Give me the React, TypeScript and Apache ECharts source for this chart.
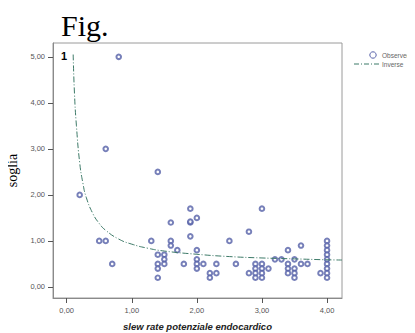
import React, { useEffect, useRef } from "react";
import * as echarts from "echarts";

// Observed points (slew rate, soglia)
const obsX = [
  0.2, 0.5, 0.6, 0.6, 0.7, 0.8,
  1.3, 1.4, 1.4, 1.4, 1.4, 1.4, 1.5, 1.5, 1.5,
  1.6, 1.6, 1.6, 1.7, 1.8, 1.9, 1.9, 1.9, 1.9,
  2.0, 2.0, 2.0, 2.0, 2.0, 2.1, 2.2, 2.2, 2.3, 2.3,
  2.5, 2.6, 2.8, 2.8, 2.9, 2.9, 2.9, 2.9,
  3.0, 3.0, 3.0, 3.0, 3.0, 3.1, 3.2, 3.3,
  3.4, 3.4, 3.4, 3.4, 3.5, 3.5, 3.5, 3.5, 3.6, 3.6, 3.7, 3.9,
  4.0, 4.0, 4.0, 4.0, 4.0, 4.0, 4.0, 4.0, 4.0,
];
const obsY = [
  2.0, 1.0, 1.0, 3.0, 0.5, 5.0,
  1.0, 2.5, 0.7, 0.5, 0.4, 0.2, 0.7, 0.6, 0.5,
  1.4, 1.0, 0.9, 0.8, 0.5, 1.7, 1.4, 1.42, 1.1,
  1.5, 0.8, 0.6, 0.5, 0.4, 0.5, 0.3, 0.2, 0.5, 0.3,
  1.0, 0.5, 1.2, 0.3, 0.5, 0.4, 0.3, 0.2,
  1.7, 0.5, 0.4, 0.3, 0.2, 0.4, 0.6, 0.6,
  0.8, 0.5, 0.4, 0.3, 0.6, 0.4, 0.3, 0.2, 0.9, 0.5, 0.5, 0.3,
  1.0, 0.9, 0.8, 0.7, 0.6, 0.5, 0.4, 0.3, 0.2,
];

// Fitted inverse curve
const fitX = [0.1, 0.12, 0.15, 0.2, 0.25, 0.3, 0.4, 0.5, 0.6, 0.8, 1.0, 1.25, 1.5, 2.0, 2.5, 3.0, 3.5, 4.0, 4.23];
const fitY = [5.05, 4.2, 3.5, 2.7, 2.25, 1.95, 1.6, 1.38, 1.23, 1.04, 0.93, 0.84, 0.78, 0.71, 0.66, 0.63, 0.61, 0.59, 0.585];

const xTicks = [0, 1, 2, 3, 4];
const yTicks = [0, 1, 2, 3, 4, 5];

const legendNames = ["Observed", "Inverse"];

const POINT_COLOR = "#5560a8";
const LINE_COLOR = "#3d7a68";

const fmt = (v: number) => v.toFixed(2).replace(".", ",");

export default function App() {
  const ref = useRef<HTMLDivElement>(null);
  useEffect(() => {
    if (!ref.current) return;
    const chart = echarts.init(ref.current, null, { renderer: "svg" });
    const axisCommon = {
      axisLine: { show: true, onZero: false, lineStyle: { color: "#8a8a8a", width: 1 } },
      axisTick: { show: true, length: 5, lineStyle: { color: "#555", width: 1 } },
      splitLine: { show: false },
    };
    chart.setOption({
      animation: false,
      backgroundColor: "#ffffff",
      title: {
        text: "Fig.",
        left: 56,
        top: 5,
        textStyle: { fontFamily: "Liberation Serif", fontSize: 30, fontWeight: "normal", color: "#000" },
      },
      grid: {
        left: 53,
        top: 43,
        right: 73,
        bottom: 35,
        show: true,
        borderColor: "#9a9a9a",
        borderWidth: 1,
        containLabel: false,
        outerBoundsMode: "none",
      },
      xAxis: {
        type: "value",
        min: -0.21,
        max: 4.23,
        ...axisCommon,
        axisTick: { ...axisCommon.axisTick, customValues: xTicks },
        axisLabel: {
          customValues: xTicks,
          formatter: fmt,
          margin: 8,
          fontFamily: "Liberation Sans",
          fontSize: 7.5,
          color: "#555",
        },
        name: "slew rate potenziale endocardico",
        nameLocation: "middle",
        nameGap: 23,
        nameTextStyle: {
          fontFamily: "Liberation Sans",
          fontSize: 9.5,
          fontWeight: "bold",
          fontStyle: "italic",
          color: "#222",
        },
      },
      yAxis: {
        type: "value",
        min: -0.24,
        max: 5.3,
        ...axisCommon,
        axisTick: { ...axisCommon.axisTick, customValues: yTicks },
        axisLabel: {
          customValues: yTicks,
          formatter: fmt,
          margin: 8,
          fontFamily: "Liberation Sans",
          fontSize: 7.5,
          color: "#555",
        },
        name: "soglia",
        nameLocation: "middle",
        nameGap: 27,
        nameTextStyle: { fontFamily: "Liberation Serif", fontSize: 14, color: "#000" },
      },
      graphic: [
        {
          type: "text",
          left: 61,
          top: 50,
          style: { text: "1", font: "bold 11px 'Liberation Sans'", fill: "#000" },
        },
        {
          type: "circle",
          shape: { cx: 373, cy: 55, r: 3.2 },
          style: { fill: "#fff", stroke: POINT_COLOR, lineWidth: 1 },
        },
        {
          type: "text",
          x: 382,
          y: 55,
          style: {
            text: legendNames[0],
            font: "6.5px 'Liberation Sans'",
            fill: "#666",
            verticalAlign: "middle",
          },
        },
        {
          type: "line",
          shape: { x1: 354, y1: 64, x2: 380, y2: 64 },
          style: { stroke: LINE_COLOR, lineWidth: 1, lineDash: [5, 2, 1, 2] },
        },
        {
          type: "text",
          x: 382,
          y: 64,
          style: {
            text: legendNames[1],
            font: "6.5px 'Liberation Sans'",
            fill: "#666",
            verticalAlign: "middle",
          },
        },
      ],
      series: [
        {
          name: legendNames[0],
          type: "scatter",
          symbol: "emptyCircle",
          symbolSize: 4.6,
          itemStyle: { color: POINT_COLOR, borderWidth: 0.8 },
          data: obsX.map((x, i) => [x, obsY[i]]),
        },
        {
          name: legendNames[1],
          type: "line",
          smooth: true,
          symbol: "none",
          lineStyle: { color: LINE_COLOR, width: 1, type: [6, 2, 1, 2] },
          data: fitX.map((x, i) => [x, fitY[i]]),
        },
      ],
    });
    return () => chart.dispose();
  }, []);
  return <div ref={ref} style={{ width: 415, height: 333, marginLeft: -8, marginTop: -8 }} />;
}
